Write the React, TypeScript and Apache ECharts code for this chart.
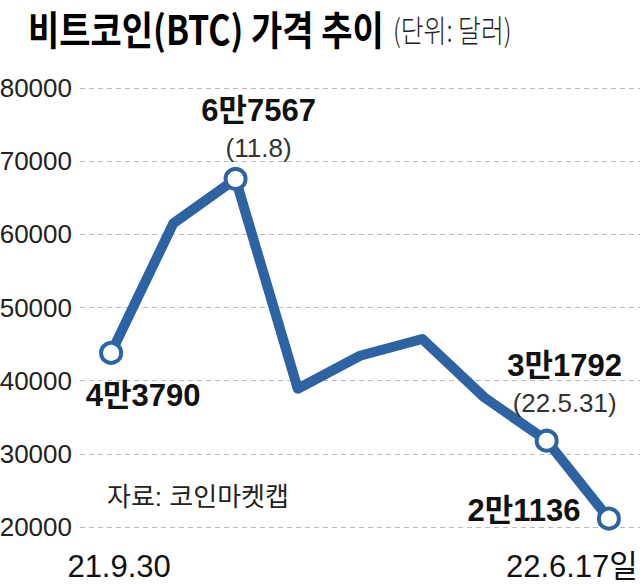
import React, { useEffect, useRef } from "react";
import * as echarts from "echarts";

const categories = ["21.9.30", "21.10.20", "21.11.8", "21.12.4", "22.1.5", "22.3.29", "22.4.30", "22.5.31", "22.6.17"];
const prices = [43790, 61500, 67567, 38900, 43400, 45700, 37700, 31792, 21136];
const yTicks = { min: 20000, max: 80000, interval: 10000 };
const markedIndex = [0, 2, 7, 8];
const pointDateLabels: Record<number, string> = { 2: "11.8", 7: "22.5.31" };
const titleText = "비트코인(BTC) 가격 추이";
const unitText = "(단위: 달러)";
const sourceText = "자료: 코인마켓캡";

const LINE = "#2d62a3";
const FONT = "'Liberation Sans', Arial, 'Noto Sans CJK KR', sans-serif";

const labelOffsets: Record<number, [number, number]> = {
  0: [32, 43],
  2: [23, -50],
  7: [18, -57],
  8: [-85, -8],
};

function fmtKor(v: number) {
  const man = Math.floor(v / 10000);
  const rest = v % 10000;
  return `${man}만${rest}`;
}

export default function App() {
  const ref = useRef<HTMLDivElement>(null);
  useEffect(() => {
    if (!ref.current) return;
    const chart = echarts.init(ref.current, null, { renderer: "svg" });
    const data = prices.map((v, i) => {
      const marked = markedIndex.includes(i);
      if (!marked) return { value: v, symbol: "none", label: { show: false } };
      const dateLabel = pointDateLabels[i];
      return {
        value: v,
        symbol: "circle",
        label: {
          show: true,
          position: "inside",
          offset: labelOffsets[i],
          align: "center",
          verticalAlign: "middle",
          formatter: dateLabel
            ? `{v|${fmtKor(v)}}\n{d|(${dateLabel})}`
            : `{v|${fmtKor(v)}}`,
          rich: {
            v: { fontSize: 31, fontWeight: "bold", color: "#111", fontFamily: FONT, lineHeight: 38 },
            d: { fontSize: 26, color: "#333", fontFamily: FONT, lineHeight: 36 },
          },
        },
      };
    });
    chart.setOption({
      animation: false,
      backgroundColor: "#fff",
      grid: { left: 80, right: 0, top: 88, bottom: 58, outerBoundsMode: "none", containLabel: false },
      xAxis: {
        type: "category",
        data: categories,
        boundaryGap: true,
        axisLine: { show: false },
        axisTick: { show: false },
        splitLine: { show: false },
        axisLabel: {
          interval: 0,
          margin: 24,
          color: "#111",
          fontSize: 31,
          fontFamily: FONT,
          hideOverlap: false,
          formatter: (val: string, idx: number) => {
            if (idx === 0) return `{a|${val}}`;
            if (idx === categories.length - 1) return `{b|${val}일}`;
            return "";
          },
          rich: {
            a: { fontSize: 31, fontFamily: FONT, color: "#111", padding: [0, 0, 0, 16] },
            b: { fontSize: 31, fontFamily: FONT, color: "#111", padding: [0, 74, 0, 0] },
          },
        },
      },
      yAxis: {
        type: "value",
        min: yTicks.min,
        max: yTicks.max,
        interval: yTicks.interval,
        axisLine: { show: false },
        axisTick: { show: false },
        axisLabel: {
          color: "#222",
          fontSize: 26,
          fontFamily: FONT,
          margin: 8,
          formatter: (v: number) => String(v),
        },
        splitLine: { show: true, lineStyle: { color: "#bbb", type: [5, 4], width: 1 } },
      },
      series: [
        {
          type: "line",
          data,
          symbolSize: 20,
          showAllSymbol: true,
          lineStyle: { color: LINE, width: 10, join: "round" },
          itemStyle: { color: "#fff", borderColor: LINE, borderWidth: 4 },
          emphasis: { disabled: true },
          z: 3,
        },
      ],
      graphic: [
        {
          type: "text",
          x: 28,
          y: 28,
          scaleX: 0.85,
          style: {
            text: titleText,
            fontSize: 40,
            fontWeight: "bold",
            fill: "#000",
            fontFamily: "'Noto Sans CJK KR', sans-serif",
            verticalAlign: "middle",
          },
        },
        {
          type: "text",
          x: 393,
          y: 28,
          scaleX: 0.8,
          style: {
            text: unitText,
            fontSize: 31,
            fill: "#222",
            fontFamily: "'Noto Sans CJK KR', sans-serif",
            fontWeight: 300,
            verticalAlign: "middle",
          },
        },
        {
          type: "text",
          left: 107,
          top: 484,
          style: { text: sourceText, fontSize: 26, fill: "#222", fontFamily: FONT },
        },
      ],
    });
    return () => chart.dispose();
  }, []);
  return <div ref={ref} style={{ width: 640, height: 585, position: "absolute", left: 0, top: 0 }} />;
}
